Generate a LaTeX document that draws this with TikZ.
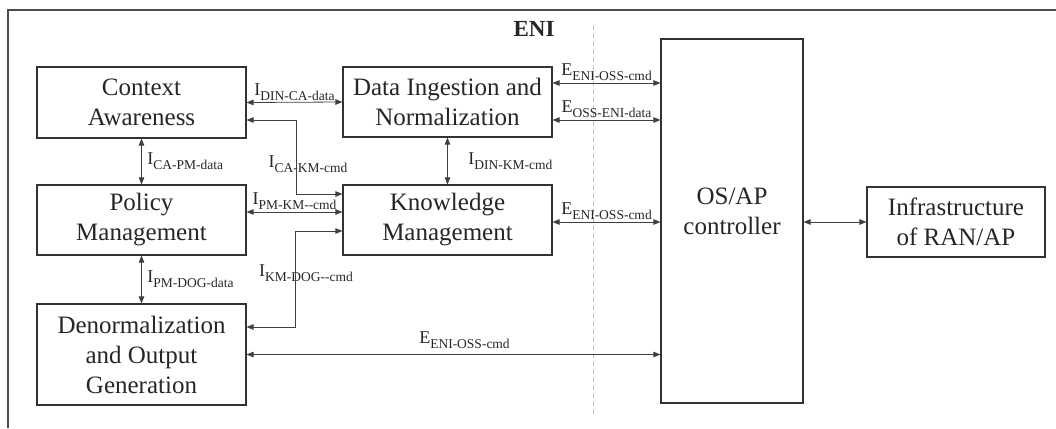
\documentclass[tikz,border=0pt]{standalone}
\usepackage{fontspec}
\setmainfont{Liberation Serif}
\usetikzlibrary{arrows.meta}
\newcommand{\intf}[2]{#1\raisebox{-0.28em}{\fontsize{13.5}{13.5}\selectfont #2}}
\tikzset{
  box/.style={draw=black!80, line width=1.1pt, align=center, inner sep=0pt,
    font=\rmfamily\fontsize{25}{30}\selectfont, text=black!85},
  link/.style={draw=black!75, line width=0.8pt,
    {Triangle[length=7pt,width=5.5pt]}-{Triangle[length=7pt,width=5.5pt]}},
  lbl/.style={font=\rmfamily\fontsize{18}{20}\selectfont, text=black!85, inner sep=1.5pt},
}
\begin{document}
\begin{tikzpicture}[x=1pt, y=-1pt]
      \useasboundingbox (0,0) rectangle (1056,428);
      % frame and split
      \draw[black!70, line width=1.1pt] (8,428) -- (8,10) -- (1056,10);
      \draw[black!25, line width=0.8pt, dash pattern=on 5pt off 3pt] (593,25) -- (593,415);
      \node[font=\rmfamily\fontsize{23}{25}\selectfont\bfseries, text=black!85] (eni) at (534,29) {ENI};
      % blocks
      \node[box, minimum width=209, minimum height=71] (ca) at (141.5,102.5) {Context\\Awareness};
      \node[box, minimum width=209, minimum height=70] (din) at (447.5,102) {Data Ingestion and\\Normalization};
      \node[box, minimum width=209, minimum height=70] (pm) at (141.5,220) {Policy\\Management};
      \node[box, minimum width=209, minimum height=70] (km) at (447.5,220) {Knowledge\\Management};
      \node[box, minimum width=209, minimum height=101] (dog) at (141.5,354.5) {Denormalization\\and Output\\Generation};
      \node[box, minimum width=142, minimum height=364] (osap) at (732,221) {};
      \node[box, draw=none] (osaptext) at ([yshift=10pt]osap.center) {OS/AP\\controller};
      \node[box, minimum width=178, minimum height=70] (infra) at (956,222) {Infrastructure\\of RAN/AP};
      % labels on the bent links
      \node[lbl] (cakm) at (308,164) {\intf{I}{CA-KM-cmd}};
      \node[lbl] (kmdog) at (306,273) {\intf{I}{KM-DOG-{}-cmd}};
      \begin{scope}[link]
        \draw (ca.east) -- node[lbl, above] (dinca) {\intf{I}{DIN-CA-data}} (din.west);
        \draw ([yshift=-17.5pt]ca.east) -- ++(50,0) |- ([yshift=26pt]km.west);
        \draw ([yshift=8pt]pm.east) -- node[lbl, above] (pmkm) {\intf{I}{PM-KM-{}-cmd}} ([yshift=8pt]km.west);
        \draw ([yshift=-11pt]km.west) -- ++(-47,0) |- ([yshift=27.5pt]dog.east);
        \draw (ca.south) -- node[lbl, right=4pt] (capm) {\intf{I}{CA-PM-data}} (pm.north);
        \draw (pm.south) -- node[lbl, right=4pt] (pmdog) {\intf{I}{PM-DOG-data}} (dog.north);
        \draw (din.south) -- node[lbl, right=19pt] (dinkm) {\intf{I}{DIN-KM-cmd}} (km.north);
        \draw ([yshift=19pt]din.east) -- node[lbl, above] (e1) {\intf{E}{ENI-OSS-cmd}} ([yshift=19pt]din.east -| osap.west);
        \draw ([yshift=-18pt]din.east) -- node[lbl, above] (e2) {\intf{E}{OSS-ENI-data}} ([yshift=-18pt]din.east -| osap.west);
        \draw ([yshift=-2pt]km.east) -- node[lbl, above] (e3) {\intf{E}{ENI-OSS-cmd}} ([yshift=-2pt]km.east -| osap.west);
        \draw (dog.east) -- node[lbl, above=4pt, xshift=11pt] (e4) {\intf{E}{ENI-OSS-cmd}} (dog.east -| osap.west);
        \draw (osap.east |- infra.west) -- (infra.west);
      \end{scope}
    \end{tikzpicture}
\end{document}
